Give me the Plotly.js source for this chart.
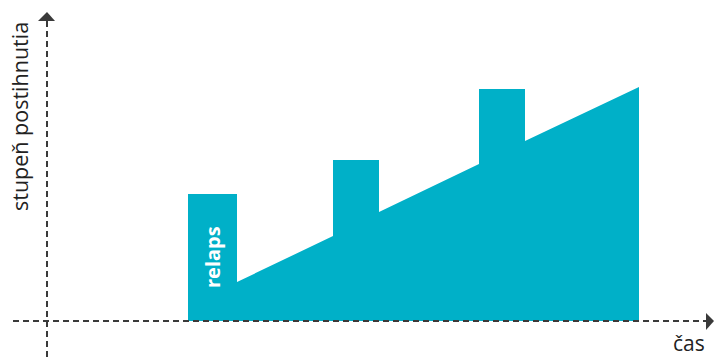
<!DOCTYPE html>
<html><head><meta charset="utf-8">
<script src="https://cdn.plot.ly/plotly-3.0.1.min.js"></script>
<style>html,body{margin:0;padding:0;background:#fff}#c{width:714px;height:357px}</style>
</head><body><div id="c"></div>
<script>
// time (x) and severity (y) of the disease course outline
const time     = [141, 141, 190, 190, 286, 286, 332, 332, 432, 432, 478, 478, 592, 592];
const severity = [0,   127, 127, 39,  85,  161, 161, 109, 157, 232, 232, 180, 234, 0];
const yLabel = "stupeň postihnutia";
const xLabel = "čas";
const relapsLabel = "relaps";
const relapsPos = {x: 165, y: 64};

const teal = "#00B0C8";
const axisCol = "#3a3a3a";

const trace = {
  x: time, y: severity, type: "scatter", mode: "lines",
  fill: "toself", fillcolor: teal, line: {color: teal, width: 0},
  hoverinfo: "skip", showlegend: false
};

const layout = {
  width: 714, height: 357,
  margin: {l: 0, r: 0, t: 0, b: 0},
  paper_bgcolor: "#fff", plot_bgcolor: "#fff",
  xaxis: {range: [-47, 667], visible: false, fixedrange: true},
  yaxis: {range: [-36, 321], visible: false, fixedrange: true},
  shapes: [
    {type: "line", xref: "x", yref: "y", x0: -34, x1: 660, y0: 0, y1: 0,
     line: {color: axisCol, width: 2, dash: "6px,4px"}, layer: "above"},
    {type: "line", xref: "x", yref: "y", x0: 0, x1: 0, y0: -36, y1: 301,
     line: {color: axisCol, width: 2, dash: "6px,4px"}, layer: "below"},
    {type: "path", xref: "x", yref: "y", path: "M -9 300 L 8 300 L 0 309 Z",
     fillcolor: axisCol, line: {width: 0}},
    {type: "path", xref: "x", yref: "y", path: "M 659 8 L 659 -9 L 667 0 Z",
     fillcolor: axisCol, line: {width: 0}}
  ],
  annotations: [
    {text: yLabel, xref: "x", yref: "y", x: -28, y: 204, textangle: -90,
     showarrow: false, font: {family: "Open Sans, sans-serif", size: 21.5, color: "#222"}},
    {text: xLabel, xref: "x", yref: "y", x: 642, y: -22,
     showarrow: false, font: {family: "Open Sans, sans-serif", size: 21, color: "#222"}},
    {text: relapsLabel, xref: "x", yref: "y", x: relapsPos.x, y: relapsPos.y, textangle: -90,
     showarrow: false, font: {family: "Open Sans, sans-serif", size: 20, color: "#fff", weight: "bold"}}
  ]
};

Plotly.newPlot("c", [trace], layout, {displayModeBar: false, staticPlot: true});
</script></body></html>
